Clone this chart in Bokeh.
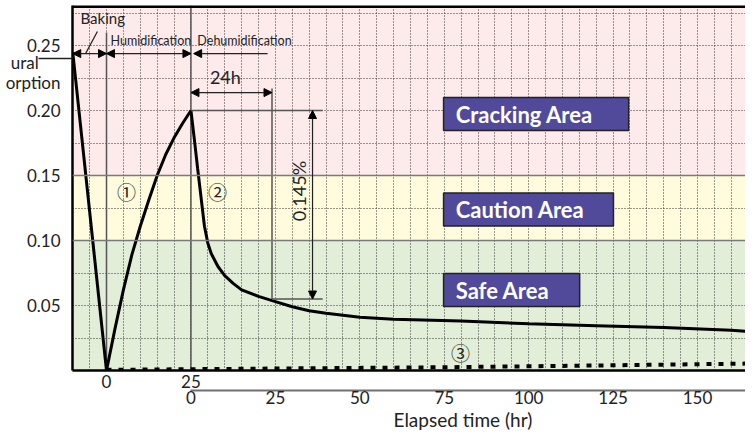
from bokeh.plotting import figure
from bokeh.models import (Range1d, LinearAxis, FixedTicker, BoxAnnotation, Span,
                          Arrow, NormalHead, Title)
from bokeh.core.properties import value
from bokeh.embed import file_html
from bokeh.resources import INLINE

# ---------------- data ----------------
baking_hours = [-10, 0]
baking_values = [0.245, 0.0]

humid_hours = [0, 2.5, 5, 7.5, 10, 12.5, 15, 17.5, 20, 22.5, 25]
humid_values = [0.0, 0.032, 0.062, 0.089, 0.111, 0.131, 0.150, 0.166, 0.179, 0.190, 0.200]

dehumid_hours = [0, 1, 2, 3, 4, 5, 6, 8, 10, 12.5, 15, 20, 25, 30, 35, 40, 50, 60, 80, 100, 120, 140, 160, 170]
dehumid_values = [0.200, 0.178, 0.155, 0.133, 0.111, 0.098, 0.090, 0.080, 0.073, 0.067, 0.062,
                  0.057, 0.053, 0.049, 0.046, 0.044, 0.041, 0.0395, 0.038, 0.036, 0.0345, 0.033, 0.031, 0.029]

sealed_hours = [0, 25, 50, 100, 150, 195]      # from start of humidification
sealed_values = [0.0005, 0.001, 0.0015, 0.0025, 0.004, 0.0055]

y_ticks = [0.05, 0.10, 0.15, 0.20, 0.25]
side_labels = {0.2369: "ural" + "\u00a0" * 5, 0.2215: "orption"}
humid_axis_ticks = [0, 25]
dehumid_axis_ticks = [0, 25, 50, 75, 100, 125, 150]
zone_bottoms = [0.0, 0.10, 0.15]
zone_tops = [0.10, 0.15, None]
zone_colors = ["#e2eed8", "#fefcdc", "#fdeaea"]
zone_names = ["Safe Area", "Caution Area", "Cracking Area"]

HUMID_LEN = 25  # dehumidification starts after 25 h of humidification
Y_END = 0.2808

FONT = "Lato"

p = figure(width=745, height=430,
           x_range=Range1d(-10.07, 189.2), y_range=Range1d(0, Y_END),
           output_backend="svg", toolbar_location=None,
           x_axis_location=None, y_axis_location="left",
           min_border_left=72, min_border_right=0, min_border_top=5, min_border_bottom=60)
p.outline_line_color = None
p.background_fill_color = "white"

# zone bands
for b, t, c in zip(zone_bottoms, zone_tops, zone_colors):
    p.add_layout(BoxAnnotation(bottom=b, top=t, fill_color=c, fill_alpha=1.0,
                               line_color=None, level="image"))
for b in zone_bottoms[1:]:
    p.add_layout(Span(location=b, dimension="width", line_color="#7a7a7a", line_width=1.5))
# top border
p.add_layout(Span(location=Y_END, dimension="width", line_color="black", line_width=5))

# grids
p.xgrid.ticker = FixedTicker(ticks=list(range(-10, 200, 5)))
p.ygrid.ticker = FixedTicker(ticks=[i * 0.025 for i in range(1, 12)])
for g in (p.xgrid, p.ygrid):
    g.grid_line_color = "#333333"
    g.grid_line_dash = "1 2"
    g.grid_line_width = 1

# y axis (with the "natural absorption" pointer as a minor tick)
ya = p.yaxis[0]
ya.ticker = FixedTicker(ticks=y_ticks + list(side_labels), minor_ticks=[0.2400])
overrides = {v: f"{v:.2f}" for v in y_ticks}
overrides.update(side_labels)
ya.major_label_overrides = overrides
ya.axis_line_color = "black"
ya.axis_line_width = 2.5
ya.major_tick_line_color = None
ya.minor_tick_line_color = "#222"
ya.minor_tick_line_width = 1.5
ya.minor_tick_in = 0
ya.minor_tick_out = 34
ya.major_tick_out = 0
ya.major_label_standoff = -22
ya.major_label_text_font = FONT
ya.major_label_text_font_size = "17px"
ya.major_label_text_color = "#222"

# bottom axis 1 (humidification hours)
ax1 = LinearAxis(ticker=FixedTicker(ticks=humid_axis_ticks),
                 major_label_overrides={v: str(v) for v in humid_axis_ticks},
                 axis_line_color="black", axis_line_width=2.5,
                 major_tick_line_color=None, minor_tick_line_color=None,
                 major_tick_out=0, major_label_standoff=4, major_label_text_font=FONT,
                 major_label_text_font_size="17px", major_label_text_color="#222")
p.add_layout(ax1, "below")

# bottom axis 2 (dehumidification hours)
ax2_pos = [HUMID_LEN + h for h in dehumid_axis_ticks]
ax2 = LinearAxis(ticker=FixedTicker(ticks=ax2_pos),
                 major_label_overrides={HUMID_LEN + h: str(h) for h in dehumid_axis_ticks},
                 axis_line_color="#707070", axis_line_width=2, bounds=(HUMID_LEN, 300),
                 major_tick_line_color=None, minor_tick_line_color=None,
                 major_tick_out=0, major_label_standoff=0, major_label_text_font=FONT,
                 major_label_text_font_size="17px", major_label_text_color="#222")
p.add_layout(ax2, "below")

p.add_layout(Title(text="Elapsed time (hr)", align="left", offset=321, standoff=-2,
                   text_font=FONT, text_font_size="19px", text_font_style="normal",
                   text_color="#222"), "below")

# phase separators
p.segment(x0=[0, HUMID_LEN], y0=[0, 0], x1=[0, HUMID_LEN], y1=[0.26, Y_END],
          line_color="#555", line_width=1.5)

# curves
p.line(baking_hours, baking_values, line_color="black", line_width=3)
p.line(humid_hours, humid_values, line_color="black", line_width=3)
p.line([HUMID_LEN + h for h in dehumid_hours], dehumid_values, line_color="black", line_width=3)
p.line(sealed_hours, sealed_values, line_color="black", line_width=4, line_dash="5 7")

# zone labels
box_right = [140.1, 150.1, 154.6]
box_mid = [0.0619, 0.1238, 0.1973]
half_h = 0.0127
p.quad(left=[99.8] * 3, right=box_right, bottom=[m - half_h for m in box_mid],
       top=[m + half_h for m in box_mid], fill_color="#514a9a", line_color="#222", line_width=1.5)
p.text(x=[103.4] * 3, y=box_mid, text=zone_names, text_font=value(FONT), text_font_style="bold",
       text_font_size="22px", text_color="white", text_baseline="middle", text_align="left")

# circled markers
p.text(x=[5.9, 32.9, 104.8], y=[0.138, 0.138, 0.0138], text=["①", "②", "③"],
       text_font=value("Noto Sans CJK JP"), text_font_size="19px", text_color="#222",
       text_align="center", text_baseline="middle")

# phase annotations
def head():
    return NormalHead(size=8, fill_color="black", line_color="black", line_width=1)

arrow_y = 0.2438
p.add_layout(Arrow(start=head(), end=head(), x_start=-10, y_start=arrow_y, x_end=0, y_end=arrow_y,
                   line_color="#222", line_width=1.2))
p.add_layout(Arrow(start=head(), end=head(), x_start=0, y_start=arrow_y, x_end=HUMID_LEN, y_end=arrow_y,
                   line_color="#222", line_width=1.2))
p.add_layout(Arrow(start=head(), end=None, x_start=HUMID_LEN + 0.8, y_start=arrow_y, x_end=47.7, y_end=arrow_y,
                   line_color="#222", line_width=1.2))
p.segment(x0=[-6.2], y0=[0.2438], x1=[-2.7], y1=[0.2608], line_color="#222", line_width=1.2)
p.text(x=[-7.7], y=[0.2708], text=["Baking"], text_font=value(FONT), text_font_size="15px",
       text_color="#222", text_baseline="middle", text_align="left")
p.text(x=[1.2, 26.9], y=[0.2538, 0.2538], text=["Humidification", "Dehumidification"],
       text_font=value(FONT), text_font_size="12.5px", text_color="#222",
       text_baseline="middle", text_align="left")

# 24h bracket
p.add_layout(Arrow(start=head(), end=head(), x_start=HUMID_LEN, y_start=0.2138, x_end=HUMID_LEN + 24,
                   y_end=0.2138, line_color="#222", line_width=1.2))
p.segment(x0=[HUMID_LEN + 24], y0=[0.055], x1=[HUMID_LEN + 24], y1=[0.217], line_color="#555", line_width=1.5)
p.text(x=[35.2], y=[0.226], text=["24h"], text_font=value(FONT), text_font_size="18px",
       text_color="#222", text_align="center", text_baseline="middle")

# 0.145% bracket
p.segment(x0=[HUMID_LEN, HUMID_LEN + 24], y0=[0.20, 0.055], x1=[64, 64], y1=[0.20, 0.055],
          line_color="#555", line_width=1.5)
p.add_layout(Arrow(start=head(), end=head(), x_start=61, y_start=0.20, x_end=61, y_end=0.055,
                   line_color="#222", line_width=1.2))
p.text(x=[56.9], y=[0.138], text=["0.145%"], angle=1.5708, text_font=value(FONT),
       text_font_size="18px", text_color="#222", text_align="center", text_baseline="middle")

open("out.html", "w").write(file_html(p, INLINE))
